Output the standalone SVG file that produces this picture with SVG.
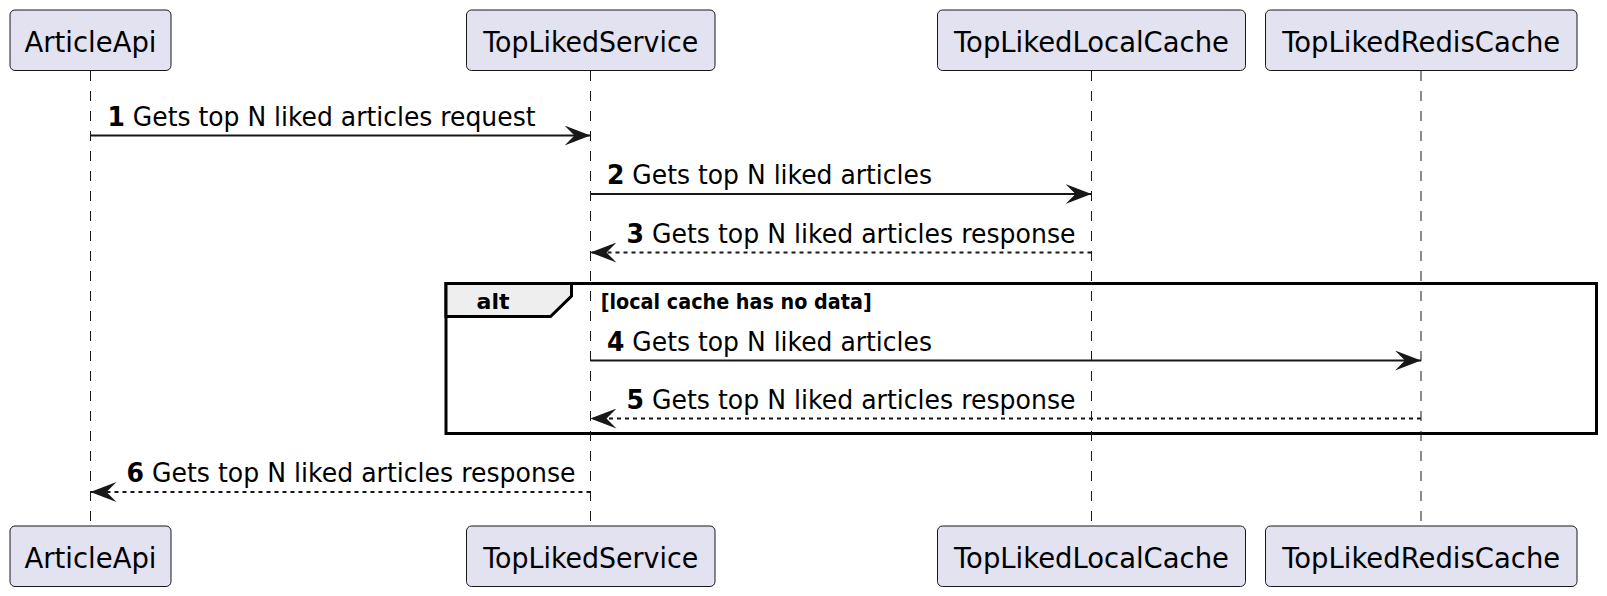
<svg xmlns="http://www.w3.org/2000/svg" width="1607" height="596" viewBox="0 0 1607 596">
<style>
.box{fill:#E2E2F0;stroke:#181818;stroke-width:1}
.pt{font-family:"DejaVu Sans","Liberation Sans",sans-serif;font-size:28px;fill:#000;text-anchor:middle}
.life{stroke:#181818;stroke-width:1;stroke-dasharray:10,10;fill:none}
.msg{stroke:#181818;stroke-width:2;fill:none}
.ret{stroke:#181818;stroke-width:2;fill:none;stroke-dasharray:4,4}
.mt{font-family:"DejaVu Sans","Liberation Sans",sans-serif;font-size:26px;fill:#000}
.b{font-weight:bold}
.frame{fill:none;stroke:#000;stroke-width:3}
.tab{fill:#EEEEEE;stroke:#000;stroke-width:3}
.ft{font-family:"DejaVu Sans","Liberation Sans",sans-serif;font-size:22px;font-weight:bold;fill:#000}
</style>
<defs>
<marker id="head" viewBox="0 0 26 20" refX="26" refY="10" markerWidth="26" markerHeight="20" markerUnits="userSpaceOnUse" orient="auto">
<path d="M26,10 L0,0 L10,10 L0,20 Z" fill="#181818"/>
</marker>
</defs>
<rect width="1607" height="596" fill="#fff"/>

<g id="alt-fragment">
<rect class="frame" x="446" y="283.5" width="1150.5" height="150"/>
<path class="tab" d="M446,283.5 H571.5 V296 L550.5,316.5 H446 Z"/>
<text class="ft" x="476.5" y="309.3" textLength="33" lengthAdjust="spacingAndGlyphs">alt</text>
<text class="ft" x="600.7" y="308.5" textLength="271" lengthAdjust="spacingAndGlyphs">[local cache has no data]</text>
</g>

<g id="node-ArticleApi">
<line class="life" x1="90.5" y1="71" x2="90.5" y2="526"/>
<rect class="box" x="10" y="10" width="161" height="60.5" rx="5"/>
<text class="pt" x="90.5" y="51.5" textLength="132" lengthAdjust="spacingAndGlyphs">ArticleApi</text>
<rect class="box" x="10" y="526" width="161" height="60.5" rx="5"/>
<text class="pt" x="90.5" y="567.5" textLength="132" lengthAdjust="spacingAndGlyphs">ArticleApi</text>
</g>

<g id="node-TopLikedService">
<line class="life" x1="590.5" y1="71" x2="590.5" y2="526"/>
<rect class="box" x="466.5" y="10" width="248.5" height="60.5" rx="5"/>
<text class="pt" x="590.7" y="51.5" textLength="215" lengthAdjust="spacingAndGlyphs">TopLikedService</text>
<rect class="box" x="466.5" y="526" width="248.5" height="60.5" rx="5"/>
<text class="pt" x="590.7" y="567.5" textLength="215" lengthAdjust="spacingAndGlyphs">TopLikedService</text>
</g>

<g id="node-TopLikedLocalCache">
<line class="life" x1="1091.5" y1="71" x2="1091.5" y2="526"/>
<rect class="box" x="937.5" y="10" width="308" height="60.5" rx="5"/>
<text class="pt" x="1091.5" y="51.5" textLength="275" lengthAdjust="spacingAndGlyphs">TopLikedLocalCache</text>
<rect class="box" x="937.5" y="526" width="308" height="60.5" rx="5"/>
<text class="pt" x="1091.5" y="567.5" textLength="275" lengthAdjust="spacingAndGlyphs">TopLikedLocalCache</text>
</g>

<g id="node-TopLikedRedisCache">
<line class="life" x1="1421" y1="71" x2="1421" y2="526"/>
<rect class="box" x="1265.5" y="10" width="311.5" height="60.5" rx="5"/>
<text class="pt" x="1421.2" y="51.5" textLength="278" lengthAdjust="spacingAndGlyphs">TopLikedRedisCache</text>
<rect class="box" x="1265.5" y="526" width="311.5" height="60.5" rx="5"/>
<text class="pt" x="1421.2" y="567.5" textLength="278" lengthAdjust="spacingAndGlyphs">TopLikedRedisCache</text>
</g>

<g id="connectors">
<g id="msg1">
<line class="msg" x1="90.5" y1="135.5" x2="590.5" y2="135.5" marker-end="url(#head)"/>
<text class="mt" x="107.5" y="125.5" textLength="428" lengthAdjust="spacingAndGlyphs"><tspan class="b">1</tspan> Gets top N liked articles request</text>
</g>
<g id="msg2">
<line class="msg" x1="590.5" y1="194" x2="1091.5" y2="194" marker-end="url(#head)"/>
<text class="mt" x="607" y="184" textLength="325" lengthAdjust="spacingAndGlyphs"><tspan class="b">2</tspan> Gets top N liked articles</text>
</g>
<g id="msg3">
<line class="ret" x1="1091.5" y1="252.5" x2="590.5" y2="252.5" marker-end="url(#head)"/>
<text class="mt" x="626.5" y="242.5" textLength="449" lengthAdjust="spacingAndGlyphs"><tspan class="b">3</tspan> Gets top N liked articles response</text>
</g>
<g id="msg4">
<line class="msg" x1="590.5" y1="360.5" x2="1421" y2="360.5" marker-end="url(#head)"/>
<text class="mt" x="607" y="350.5" textLength="325" lengthAdjust="spacingAndGlyphs"><tspan class="b">4</tspan> Gets top N liked articles</text>
</g>
<g id="msg5">
<line class="ret" x1="1421" y1="418.5" x2="590.5" y2="418.5" marker-end="url(#head)"/>
<text class="mt" x="626.5" y="408.5" textLength="449" lengthAdjust="spacingAndGlyphs"><tspan class="b">5</tspan> Gets top N liked articles response</text>
</g>
<g id="msg6">
<line class="ret" x1="590.5" y1="492" x2="90.5" y2="492" marker-end="url(#head)"/>
<text class="mt" x="126.5" y="482" textLength="449" lengthAdjust="spacingAndGlyphs"><tspan class="b">6</tspan> Gets top N liked articles response</text>
</g>
</g>
</svg>
